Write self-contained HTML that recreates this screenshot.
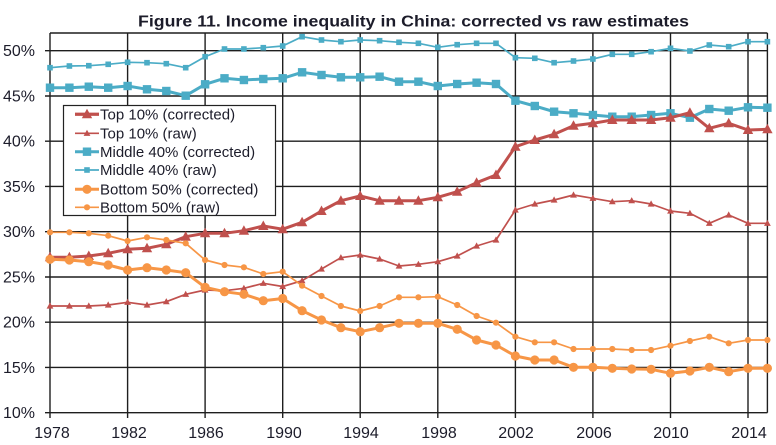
<!DOCTYPE html>
<html>
<head>
<meta charset="utf-8">
<style>
html,body{margin:0;padding:0;background:#fff;}
svg{display:block;}
text{font-family:"Liberation Sans",Arial,sans-serif;fill:#1c1c2a;}
</style>
</head>
<body>
<svg width="776" height="445" viewBox="0 0 776 445" xmlns="http://www.w3.org/2000/svg">
<defs>
  <marker id="triC" markerUnits="userSpaceOnUse" markerWidth="12" markerHeight="12" viewBox="-6 -6 12 12" refX="0" refY="0" overflow="visible">
    <path d="M0,-5.5 L5.2,4 L-5.2,4 Z" fill="#C0504D"/>
  </marker>
  <marker id="triR" markerUnits="userSpaceOnUse" markerWidth="8" markerHeight="8" viewBox="-4 -4 8 8" refX="0" refY="0" overflow="visible">
    <path d="M0,-3.6 L3.4,2.6 L-3.4,2.6 Z" fill="#C0504D"/>
  </marker>
  <marker id="sqC" markerUnits="userSpaceOnUse" markerWidth="10" markerHeight="10" viewBox="-5 -5 10 10" refX="0" refY="0" overflow="visible">
    <rect x="-4.2" y="-4.2" width="8.4" height="8.4" fill="#4BACC6"/>
  </marker>
  <marker id="sqR" markerUnits="userSpaceOnUse" markerWidth="7" markerHeight="7" viewBox="-3.5 -3.5 7 7" refX="0" refY="0" overflow="visible">
    <rect x="-2.8" y="-2.8" width="5.6" height="5.6" fill="#4BACC6"/>
  </marker>
  <marker id="ciC" markerUnits="userSpaceOnUse" markerWidth="10" markerHeight="10" viewBox="-5 -5 10 10" refX="0" refY="0" overflow="visible">
    <circle r="4.6" fill="#F79646"/>
  </marker>
  <marker id="ciR" markerUnits="userSpaceOnUse" markerWidth="8" markerHeight="8" viewBox="-4 -4 8 8" refX="0" refY="0" overflow="visible">
    <circle r="3.1" fill="#F79646"/>
  </marker>
</defs>

<!-- Title -->
<text x="138" y="26.5" font-size="16" font-weight="bold" textLength="551" lengthAdjust="spacingAndGlyphs">Figure 11. Income inequality in China: corrected vs raw estimates</text>

<!-- Grid -->
<g stroke="#1e1e1e" stroke-width="1.4" fill="none">
  <line x1="45" y1="50.7" x2="767.4" y2="50.7"/>
  <line x1="45" y1="96" x2="767.4" y2="96"/>
  <line x1="45" y1="141.2" x2="767.4" y2="141.2"/>
  <line x1="45" y1="186.45" x2="767.4" y2="186.45"/>
  <line x1="45" y1="231.7" x2="767.4" y2="231.7"/>
  <line x1="45" y1="277" x2="767.4" y2="277"/>
  <line x1="45" y1="322.2" x2="767.4" y2="322.2"/>
  <line x1="45" y1="367.45" x2="767.4" y2="367.45"/>
  <line x1="45" y1="412.7" x2="767.4" y2="412.7"/>
  <line x1="50" y1="33" x2="767.4" y2="33"/>
  <line x1="50" y1="33" x2="50" y2="418"/>
  <line x1="127.6" y1="33" x2="127.6" y2="418"/>
  <line x1="205.1" y1="33" x2="205.1" y2="418"/>
  <line x1="282.7" y1="33" x2="282.7" y2="418"/>
  <line x1="360.2" y1="33" x2="360.2" y2="418"/>
  <line x1="437.8" y1="33" x2="437.8" y2="418"/>
  <line x1="515.4" y1="33" x2="515.4" y2="418"/>
  <line x1="592.9" y1="33" x2="592.9" y2="418"/>
  <line x1="670.5" y1="33" x2="670.5" y2="418"/>
  <line x1="748" y1="33" x2="748" y2="418"/>
  <line x1="767.4" y1="33" x2="767.4" y2="412.7"/>
</g>

<!-- Y labels -->
<g font-size="16" text-anchor="end">
  <text x="35" y="56.2">50%</text>
  <text x="35" y="101.5">45%</text>
  <text x="35" y="146.7">40%</text>
  <text x="35" y="192">35%</text>
  <text x="35" y="237.2">30%</text>
  <text x="35" y="282.5">25%</text>
  <text x="35" y="327.7">20%</text>
  <text x="35" y="373">15%</text>
  <text x="35" y="418.2">10%</text>
</g>

<!-- X labels -->
<g font-size="16" text-anchor="middle">
  <text x="52" y="438">1978</text>
  <text x="129" y="438">1982</text>
  <text x="206" y="438">1986</text>
  <text x="284" y="438">1990</text>
  <text x="361" y="438">1994</text>
  <text x="439" y="438">1998</text>
  <text x="516" y="438">2002</text>
  <text x="594" y="438">2006</text>
  <text x="671" y="438">2010</text>
  <text x="749" y="438">2014</text>
</g>

<!-- Series -->
<g fill="none" stroke-linejoin="round" stroke-linecap="round">
  <!-- Middle 40% raw -->
  <polyline stroke="#4BACC6" stroke-width="1.7" marker-start="url(#sqR)" marker-mid="url(#sqR)" marker-end="url(#sqR)"
    points="50,67.7 69.4,66 88.8,65.7 108.2,64.3 127.6,62.3 147,62.7 166.3,63.7 185.7,67.7 205.1,56.7 224.5,49 243.9,49 263.3,47.7 282.7,46 302.1,36.7 321.5,40 340.9,41.7 360.2,40 379.6,40.7 399,42.3 418.4,43.3 437.8,47.3 457.2,44.7 476.6,43.3 496,43.3 515.4,57.7 534.8,58.3 554.1,62.7 573.5,61 592.9,59 612.3,54.3 631.7,54.3 651.1,51.7 670.5,48.3 689.9,51 709.3,45 728.7,46.7 748,41.7 767.4,41.7"/>
  <!-- Middle 40% corrected -->
  <polyline stroke="#4BACC6" stroke-width="3" marker-start="url(#sqC)" marker-mid="url(#sqC)" marker-end="url(#sqC)"
    points="50,87.7 69.4,87.7 88.8,86.7 108.2,87.7 127.6,86 147,89.3 166.3,91 185.7,95.7 205.1,84.3 224.5,78.3 243.9,80 263.3,79 282.7,78.3 302.1,72.3 321.5,75 340.9,77.3 360.2,77.3 379.6,76.7 399,81.7 418.4,81.7 437.8,86 457.2,84 476.6,82.7 496,84 515.4,100.7 534.8,106 554.1,111.7 573.5,113.3 592.9,115 612.3,116.7 631.7,116.7 651.1,115 670.5,113.3 689.9,117.7 709.3,109 728.7,110.7 748,107.3 767.4,107.7"/>
  <!-- Top 10% raw -->
  <polyline stroke="#C0504D" stroke-width="1.7" marker-start="url(#triR)" marker-mid="url(#triR)" marker-end="url(#triR)"
    points="50,306 69.4,306 88.8,306 108.2,305 127.6,302.3 147,305 166.3,301.7 185.7,294.3 205.1,290 224.5,290.7 243.9,288.3 263.3,283.3 282.7,286.5 302.1,280.7 321.5,269 340.9,257.7 360.2,255 379.6,259 399,266 418.4,264.3 437.8,261.7 457.2,256 476.6,246 496,240 515.4,210 534.8,204 554.1,200 573.5,195 592.9,198.3 612.3,201.7 631.7,200.7 651.1,204 670.5,211 689.9,213.3 709.3,223.3 728.7,215 748,223.3 767.4,223.3"/>
  <!-- Top 10% corrected -->
  <polyline stroke="#C0504D" stroke-width="3" marker-start="url(#triC)" marker-mid="url(#triC)" marker-end="url(#triC)"
    points="50,257.3 69.4,257.3 88.8,256 108.2,253.3 127.6,249.3 147,248.3 166.3,244.3 185.7,236.7 205.1,233.3 224.5,233.3 243.9,230.7 263.3,226 282.7,229.2 302.1,222.3 321.5,211 340.9,200.7 360.2,196 379.6,200.7 399,200.7 418.4,200.7 437.8,197.3 457.2,191.7 476.6,182.7 496,175 515.4,146.7 534.8,140 554.1,134.3 573.5,125.7 592.9,123.3 612.3,120 631.7,120 651.1,120 670.5,117.7 689.9,112.7 709.3,128.3 728.7,123.3 748,130 767.4,129.3"/>
  <!-- Bottom 50% raw -->
  <polyline stroke="#F79646" stroke-width="1.7" marker-start="url(#ciR)" marker-mid="url(#ciR)" marker-end="url(#ciR)"
    points="50,232.3 69.4,232.3 88.8,233.3 108.2,235.7 127.6,241 147,237.3 166.3,240 185.7,243.3 205.1,260 224.5,265 243.9,267.3 263.3,274 282.7,271.7 302.1,285.7 321.5,296 340.9,306 360.2,311 379.6,306 399,297.3 418.4,297.3 437.8,296.7 457.2,305 476.6,316 496,322.7 515.4,336.7 534.8,342.3 554.1,342.3 573.5,349 592.9,349 612.3,349 631.7,350 651.1,350 670.5,345.7 689.9,341 709.3,336.7 728.7,343.3 748,340 767.4,340"/>
  <!-- Bottom 50% corrected -->
  <polyline stroke="#F79646" stroke-width="3" marker-start="url(#ciC)" marker-mid="url(#ciC)" marker-end="url(#ciC)"
    points="50,259.3 69.4,260 88.8,261.7 108.2,265 127.6,270 147,267.7 166.3,270 185.7,272.7 205.1,287.3 224.5,291.7 243.9,294.3 263.3,300.7 282.7,298.5 302.1,310.7 321.5,320 340.9,327.7 360.2,331.7 379.6,327.7 399,323.3 418.4,323.3 437.8,323.3 457.2,329.3 476.6,340 496,345 515.4,356 534.8,360 554.1,360 573.5,367.3 592.9,367.3 612.3,368.3 631.7,369 651.1,369.3 670.5,373.3 689.9,371 709.3,367.3 728.7,371.7 748,368.3 767.4,368.3"/>
</g>

<!-- Legend -->
<rect x="63.5" y="105.5" width="212" height="110" fill="#fff" stroke="#222" stroke-width="1.2"/>
<g fill="none" stroke-linecap="butt">
  <line x1="75" y1="114.3" x2="99" y2="114.3" stroke="#C0504D" stroke-width="3" marker-mid="url(#triC)"/>
  <polyline points="75,114.3 87,114.3 99,114.3" stroke="#C0504D" stroke-width="3" marker-mid="url(#triC)"/>
  <polyline points="75,133.3 87,133.3 99,133.3" stroke="#C0504D" stroke-width="1.7" marker-mid="url(#triR)"/>
  <polyline points="75,151.7 87,151.7 99,151.7" stroke="#4BACC6" stroke-width="3" marker-mid="url(#sqC)"/>
  <polyline points="75,170 87,170 99,170" stroke="#4BACC6" stroke-width="1.7" marker-mid="url(#sqR)"/>
  <polyline points="75,189.3 87,189.3 99,189.3" stroke="#F79646" stroke-width="3" marker-mid="url(#ciC)"/>
  <polyline points="75,207.3 87,207.3 99,207.3" stroke="#F79646" stroke-width="1.7" marker-mid="url(#ciR)"/>
</g>
<g font-size="15">
  <text x="100" y="119.5">Top 10% (corrected)</text>
  <text x="100" y="138.5">Top 10% (raw)</text>
  <text x="100" y="156.9">Middle 40% (corrected)</text>
  <text x="100" y="175.2">Middle 40% (raw)</text>
  <text x="100" y="194.5">Bottom 50% (corrected)</text>
  <text x="100" y="212.5">Bottom 50% (raw)</text>
</g>
</svg>
</body>
</html>
